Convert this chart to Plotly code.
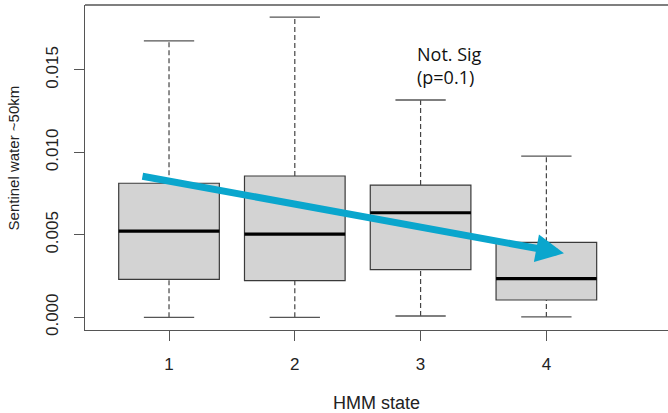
import plotly.graph_objects as go

# ---- data ----
states = [1, 2, 3, 4]
q1 = [0.00230, 0.00222, 0.00289, 0.00105]
medians = [0.00523, 0.00505, 0.00634, 0.00234]
q3 = [0.00813, 0.00857, 0.00802, 0.00455]
lower_whisker = [0.00000, 0.00000, 0.00008, 0.00002]
upper_whisker = [0.01676, 0.01821, 0.01318, 0.00978]

x_tick_labels = ["1", "2", "3", "4"]
y_tick_vals = [0.000, 0.005, 0.010, 0.015]
y_tick_text = ["0.000", "0.005", "0.010", "0.015"]

arrow_start = (0.777, 0.00857)
arrow_end = (4.14, 0.00388)
note_text = "Not. Sig<br>(p=0.1)"
note_pos = (2.956, 0.01525)

BOX_W = 0.8
CAP_HALF = 0.2
MED_HALF = 0.4
edge = "#3a3a3a"
axis_col = "#555555"

fig = go.Figure()

fig.add_trace(go.Box(
    x=states, q1=q1, median=medians, q3=q3,
    lowerfence=q1, upperfence=q3,
    width=BOX_W, fillcolor="#D3D3D3",
    line=dict(color=edge, width=1.2),
    whiskerwidth=0, boxpoints=False, hoverinfo="skip", showlegend=False,
))

# dashed whiskers
wx, wy = [], []
for s, lo, a, b, hi in zip(states, lower_whisker, q1, q3, upper_whisker):
    wx += [s, s, None, s, s, None]
    wy += [lo, a, None, b, hi, None]
fig.add_trace(go.Scatter(x=wx, y=wy, mode="lines",
                         line=dict(color="#444444", width=1.2, dash="5px,3px"),
                         hoverinfo="skip", showlegend=False))

# caps
cx, cy = [], []
for s, lo, hi in zip(states, lower_whisker, upper_whisker):
    cx += [s - CAP_HALF, s + CAP_HALF, None, s - CAP_HALF, s + CAP_HALF, None]
    cy += [lo, lo, None, hi, hi, None]
fig.add_trace(go.Scatter(x=cx, y=cy, mode="lines",
                         line=dict(color="#555555", width=1.3),
                         hoverinfo="skip", showlegend=False))

# thick medians
mx, my = [], []
for s, m in zip(states, medians):
    mx += [s - MED_HALF, s + MED_HALF, None]
    my += [m, m, None]
fig.add_trace(go.Scatter(x=mx, y=my, mode="lines",
                         line=dict(color="#000000", width=3.2),
                         hoverinfo="skip", showlegend=False))

fig.add_annotation(
    x=arrow_end[0], y=arrow_end[1], ax=arrow_start[0], ay=arrow_start[1],
    xref="x", yref="y", axref="x", ayref="y", text="",
    showarrow=True, arrowhead=2, arrowsize=0.8, arrowwidth=7,
    arrowcolor="#0AA6CD", standoff=0,
)

fig.add_annotation(
    x=note_pos[0], y=note_pos[1], xref="x", yref="y",
    text=note_text, showarrow=False, xanchor="left", yanchor="middle",
    align="left", font=dict(family="Open Sans", size=18, color="#111111"),
)

# y-axis title placed as rotated text left of the tick labels
fig.add_annotation(
    x=-0.1235, y=0.531, xref="paper", yref="paper", text="Sentinel water ~50km",
    textangle=-90, showarrow=False, xanchor="center", yanchor="middle",
    font=dict(size=15, color="#222222"),
)

# top border line
fig.add_shape(type="line", xref="paper", yref="paper", x0=0, x1=1, y0=1, y1=1,
              line=dict(color=axis_col, width=1.3))

fig.update_layout(
    width=668, height=413,
    margin=dict(l=85, r=0, t=5, b=83),
    paper_bgcolor="white", plot_bgcolor="white",
    font=dict(family="Liberation Sans, Arial, sans-serif", size=15, color="#222222"),
    showlegend=False,
)
fig.update_xaxes(
    range=[0.332, 4.967], tickmode="array", tickvals=states, ticktext=x_tick_labels,
    showgrid=False, zeroline=False, showline=True, linecolor=axis_col, linewidth=1.3,
    ticks="outside", ticklen=10, tickcolor=axis_col, tickwidth=1.3,
    tickfont=dict(size=17),
    title=dict(text="HMM state", standoff=27), ticklabelstandoff=8,
)
fig.update_yaxes(
    range=[-0.00077, 0.01894], tickmode="array", tickvals=y_tick_vals, ticktext=y_tick_text,
    tickangle=-90, showgrid=False, zeroline=False, showline=True, linecolor=axis_col,
    linewidth=1.3, ticks="outside", ticklen=10, tickcolor=axis_col, tickwidth=1.3,
    tickfont=dict(size=17), ticklabelstandoff=9,
)

fig.write_html("out.html")
